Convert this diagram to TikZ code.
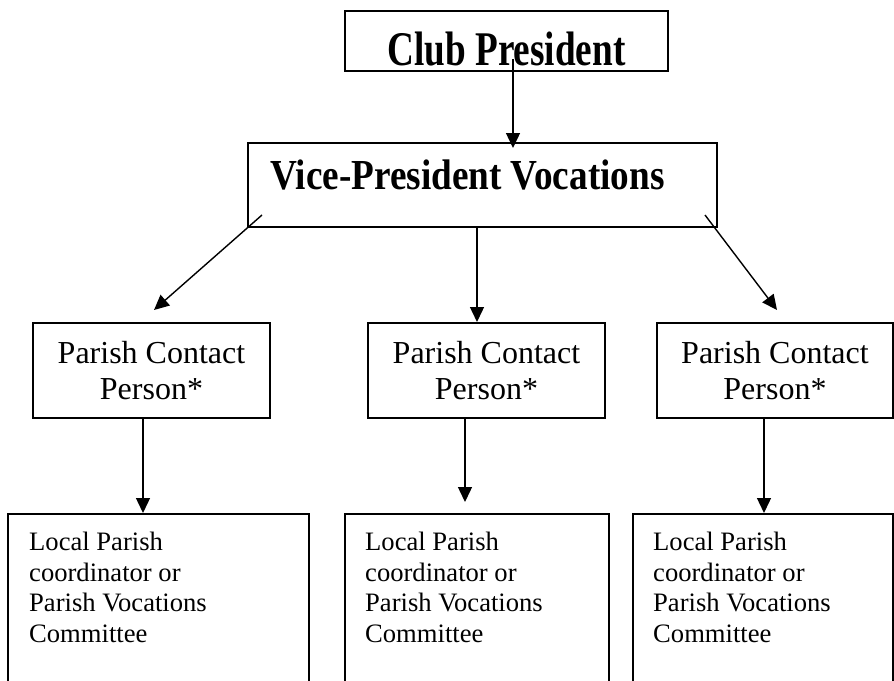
\documentclass[tikz,border=0pt]{standalone}
\usepackage{fontspec}
\setmainfont{Liberation Serif}
\usepackage{graphicx}
\usetikzlibrary{arrows.meta}
\begin{document}
\begin{tikzpicture}[x=1pt,y=-1pt,
  box/.style={draw, line width=2pt, inner sep=0pt},
  arr/.style={line width=1.4pt, -{Triangle[length=15pt,width=14pt]}},
  clubtxt/.style={font=\fontsize{37.2}{40}\selectfont\bfseries, inner sep=0pt},
  vptxt/.style={font=\fontsize{37.2}{40}\selectfont\bfseries, inner sep=0pt},
  midtxt/.style={font=\fontsize{32}{36}\selectfont, align=center, inner sep=0pt},
  smalltxt/.style={font=\fontsize{26.6}{30.7}\selectfont, align=left, inner sep=0pt}]
\useasboundingbox (0,0) rectangle (894,680);
\clip (0,0) rectangle (894,680);
\fill[white] (0,0) rectangle (894,680);

% top
\node[box, minimum width=323pt, minimum height=60pt] (cpbox) at (506.5,41) {};
\node[clubtxt, anchor=base] (cp) at (506.5,65) {\scalebox{1}[1.3]{Club President}};

\node[box, minimum width=469pt, minimum height=84pt] (vpbox) at (482.5,185) {};
\node[vptxt, anchor=base west] (vp) at (270,189) {\scalebox{1}[1.15]{Vice-President Vocations}};

% parish contact boxes
\node[box, minimum width=237pt, minimum height=95pt] (pc1box) at (151.5,370.5) {};
\node[midtxt, anchor=north] (pc1) at (151.5,341) {Parish Contact\\Person*};
\node[box, minimum width=237pt, minimum height=95pt] (pc2box) at (486.5,370.5) {};
\node[midtxt, anchor=north] (pc2) at (486.5,341) {Parish Contact\\Person*};
\node[box, minimum width=236pt, minimum height=95pt] (pc3box) at (775,370.5) {};
\node[midtxt, anchor=north] (pc3) at (775,341) {Parish Contact\\Person*};

% local parish boxes
\node[box, minimum width=301pt, minimum height=200pt] (lp1box) at (158.5,614) {};
\node[smalltxt, anchor=north west] (lp1) at (29,531.8) {Local Parish\\coordinator or\\Parish Vocations\\Committee};
\node[box, minimum width=264pt, minimum height=200pt] (lp2box) at (477,614) {};
\node[smalltxt, anchor=north west] (lp2) at (365,531.8) {Local Parish\\coordinator or\\Parish Vocations\\Committee};
\node[box, minimum width=260pt, minimum height=200pt] (lp3box) at (763,614) {};
\node[smalltxt, anchor=north west] (lp3) at (653,531.8) {Local Parish\\coordinator or\\Parish Vocations\\Committee};

% connector end points
\coordinate (a0s) at (513,59);
\coordinate (a0e) at (513,148);
\coordinate (aLs) at (262,215);
\coordinate (aLe) at (154,310);
\coordinate (aMs) at (477,227);
\coordinate (aMe) at (477,322);
\coordinate (aRs) at (705,215);
\coordinate (aRe) at (777,310);
\coordinate (b1s) at (143,418);
\coordinate (b1e) at (143,513);
\coordinate (b2s) at (465,418);
\coordinate (b2e) at (465,502);
\coordinate (b3s) at (764,418);
\coordinate (b3e) at (764,513);

\draw[arr] (a0s) -- (a0e);
\draw[arr] (aLs) -- (aLe);
\draw[arr] (aMs) -- (aMe);
\draw[arr] (aRs) -- (aRe);
\draw[arr] (b1s) -- (b1e);
\draw[arr] (b2s) -- (b2e);
\draw[arr] (b3s) -- (b3e);
\end{tikzpicture}
\end{document}
